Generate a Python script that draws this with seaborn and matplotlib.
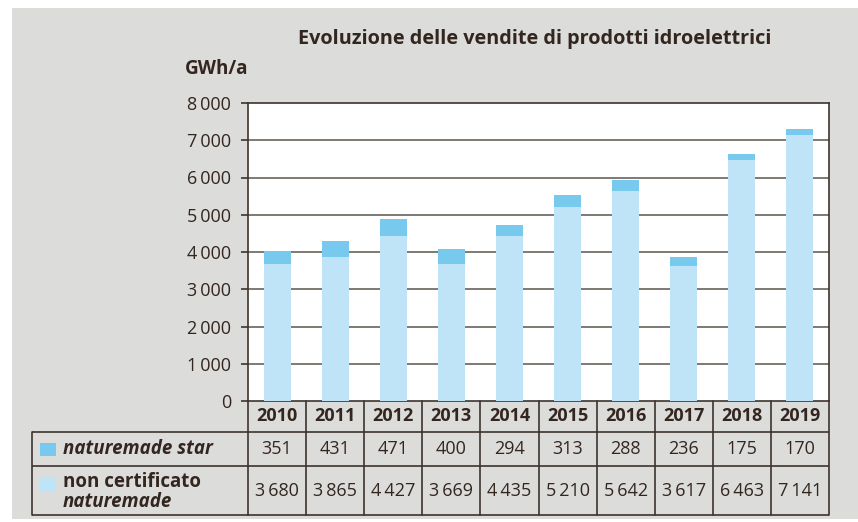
import numpy as np
import pandas as pd
import matplotlib
matplotlib.use("Agg")
import matplotlib.pyplot as plt
from matplotlib.patches import Rectangle
import seaborn as sns

# ---- data ----
years = ["2010", "2011", "2012", "2013", "2014", "2015", "2016", "2017", "2018", "2019"]
star = [351, 431, 471, 400, 294, 313, 288, 236, 175, 170]
non_cert = [3680, 3865, 4427, 3669, 4435, 5210, 5642, 3617, 6463, 7141]
yticks = [0, 1000, 2000, 3000, 4000, 5000, 6000, 7000, 8000]
title = "Evoluzione delle vendite di prodotti idroelettrici"
unit = "GWh/a"
series_labels = ["naturemade star", "non certificato", "naturemade"]

sns.set_theme(style="white")
plt.rcParams['font.family'] = ['Open Sans', 'DejaVu Sans']

TXT = '#33261f'
LINE = '#3d332d'
GRID = '#6a625c'
C_STAR = '#78c9ee'
C_NON = '#c0e4f7'
BG = '#dcdcdb'

W, H = 858, 522
fig = plt.figure(figsize=(W / 100, H / 100), dpi=100)
fig.patch.set_facecolor('white')

def fx(px):
    return px / W

def fy(py):
    return 1 - py / H

# grey panel
fig.patches.append(Rectangle((fx(12), fy(519)), fx(858) - fx(12), fy(8) - fy(519),
                             transform=fig.transFigure, facecolor=BG, edgecolor='none', zorder=-10))

df = pd.DataFrame({"year": years, "star": star, "non": non_cert})
df["total"] = df["star"] + df["non"]

# main axes
L, R, T, B = 248, 829, 103, 401
ax = fig.add_axes([fx(L), fy(B), fx(R) - fx(L), fy(T) - fy(B)])
ax.set_facecolor('white')
sns.barplot(data=df, x="year", y="total", color=C_STAR, width=0.465, saturation=1,
            ax=ax, zorder=3, edgecolor='none', linewidth=0)
sns.barplot(data=df, x="year", y="non", color=C_NON, width=0.465, saturation=1,
            ax=ax, zorder=4, edgecolor='none', linewidth=0)
ax.set_xlim(-0.5, 9.5)
ax.set_ylim(0, 8000)
ax.set_yticks(yticks)
ax.set_yticklabels([f"{v:,}".replace(",", "\u2009") for v in yticks], fontsize=13, color=TXT)
ax.set_xticks([])
ax.set_xlabel("")
ax.set_ylabel("")
for v in yticks[1:-1]:
    ax.axhline(v, color=GRID, lw=1.2, zorder=1)
ax.tick_params(axis='y', length=5, width=1.2, color=LINE, pad=7, left=True)
for s in ax.spines.values():
    s.set_visible(True)
    s.set_color(LINE)
    s.set_linewidth(1.2)

# title and unit
fig.text(fx(535), fy(39), title, ha='center', va='center', fontsize=14.3, fontweight='bold', color=TXT)
fig.text(fx(185), fy(69), unit, ha='left', va='center', fontsize=13.6, fontweight='bold', color=TXT)

# table axes
TL, TB = 32, 515
tax = fig.add_axes([fx(TL), fy(TB), fx(R) - fx(TL), fy(B) - fy(TB)])
tax.set_facecolor('none')
colw = (R - L) / 10
x0 = -0.5 - (L - TL) / colw
tax.set_xlim(x0, 9.5)
tax.set_ylim(TB - B, 0)
tax.axis('off')

def px2x(px):
    return x0 + (px - TL) / colw

r1, r2, r3 = 31, 65, 114
for yy in (r1, r2, r3):
    tax.plot([x0, 9.5], [yy, yy], color=LINE, lw=1.2, solid_capstyle='butt', clip_on=False)
tax.plot([x0, x0], [r1, r3], color=LINE, lw=1.2, clip_on=False)
for k in range(11):
    tax.plot([k - 0.5, k - 0.5], [0, r3], color=LINE, lw=1.2, clip_on=False)

for i, yr in enumerate(years):
    tax.text(i, 15, yr, ha='center', va='center', fontsize=13, fontweight='bold', color=TXT)
    tax.text(i, 48, f"{star[i]:,}".replace(",", "\u2009"), ha='center', va='center', fontsize=13, color=TXT)
    tax.text(i, 90, f"{non_cert[i]:,}".replace(",", "\u2009"), ha='center', va='center', fontsize=13, color=TXT)

tax.add_patch(Rectangle((px2x(40), 42), px2x(56) - px2x(40), 13, facecolor=C_STAR, edgecolor='none'))
tax.add_patch(Rectangle((px2x(40), 76), px2x(56) - px2x(40), 14, facecolor=C_NON, edgecolor='none'))
tax.text(px2x(63), 48, series_labels[0], ha='left', va='center', fontsize=13.5, fontweight='bold',
         fontstyle='italic', color=TXT)
tax.text(px2x(63), 81, series_labels[1], ha='left', va='center', fontsize=13.5, fontweight='bold', color=TXT)
tax.text(px2x(63), 101, series_labels[2], ha='left', va='center', fontsize=13.5, fontweight='bold',
         fontstyle='italic', color=TXT)

fig.savefig("out.png", dpi=100, facecolor=fig.get_facecolor())
